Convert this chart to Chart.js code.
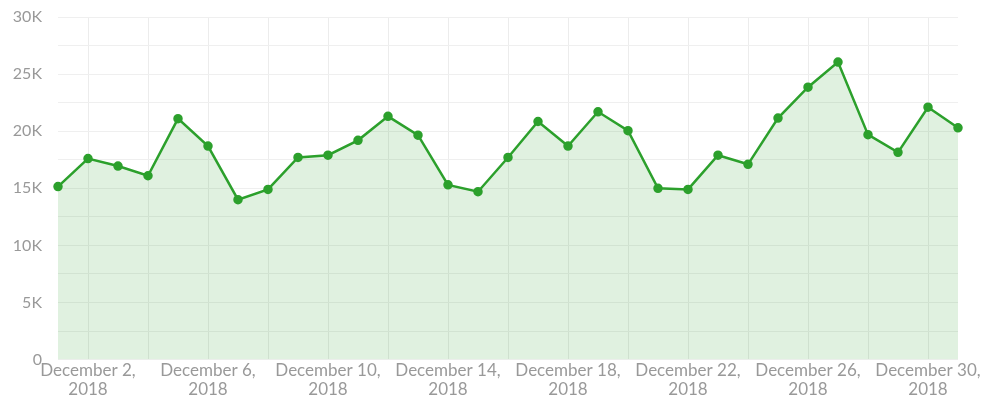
<!DOCTYPE html>
<html>
<head>
<meta charset="utf-8">
<script src="https://cdn.jsdelivr.net/npm/chart.js@4"></script>
<style>
  html, body { margin: 0; padding: 0; background: #fff; }
  #wrap { width: 986px; height: 401px; }
</style>
</head>
<body>
<div id="wrap"><canvas id="chart"></canvas></div>
<script>
// days of December 2018
const days = [1, 2, 3, 4, 5, 6, 7, 8, 9, 10, 11, 12, 13, 14, 15, 16,
  17, 18, 19, 20, 21, 22, 23, 24, 25, 26, 27, 28, 29, 30, 31];
// daily values
const visits = [15150, 17600, 16950, 16100, 21100, 18700, 14000, 14900, 17700, 17900,
  19200, 21300, 19650, 15300, 14700, 17700, 20850, 18700, 21700, 20050,
  15000, 14900, 17900, 17100, 21150, 23850, 26050, 19700, 18150, 22100, 20300];
const yTicks = [0, 5000, 10000, 15000, 20000, 25000, 30000];

const labels = days.map(d => ['December ' + d + ',', '2018']);
const textColor = '#999999';
const green = '#2ca02c';

new Chart(document.getElementById('chart'), {
  type: 'line',
  data: {
    labels: labels,
    datasets: [{
      data: visits,
      borderColor: green,
      backgroundColor: 'rgba(44,160,44,0.15)',
      pointBackgroundColor: green,
      pointBorderColor: green,
      pointRadius: 3.5,
      borderWidth: 2.5,
      fill: 'origin',
      tension: 0
    }]
  },
  options: {
    responsive: true,
    maintainAspectRatio: false,
    animation: false,
    layout: { padding: { left: 0, right: 28, top: 17, bottom: 0 } },
    plugins: { legend: { display: false }, tooltip: { enabled: false } },
    scales: {
      x: {
        offset: false,
        border: { display: false },
        grid: {
          drawTicks: false,
          color: ctx => (ctx.index % 2 === 1 ? '#ececec' : 'rgba(0,0,0,0)')
        },
        ticks: {
          autoSkip: false,
          maxRotation: 0,
          padding: 2,
          color: textColor,
          font: { family: 'Lato', size: 17, lineHeight: 1.1 },
          callback: function (val, i) {
            return (i - 1) % 4 === 0 ? labels[i] : '';
          }
        }
      },
      y: {
        min: 0,
        max: 30000,
        border: { display: false },
        grid: { drawTicks: false, color: '#efefef' },
        afterFit: s => { s.width = 58; s.paddingTop = 0; s.paddingBottom = 0; },
        ticks: {
          stepSize: 2500,
          padding: 16,
          color: textColor,
          font: { family: 'Lato', size: 16 },
          callback: v => yTicks.includes(v) ? (v === 0 ? '0' : (v / 1000) + 'K') : ''
        }
      }
    }
  }
});
</script>
</body>
</html>
